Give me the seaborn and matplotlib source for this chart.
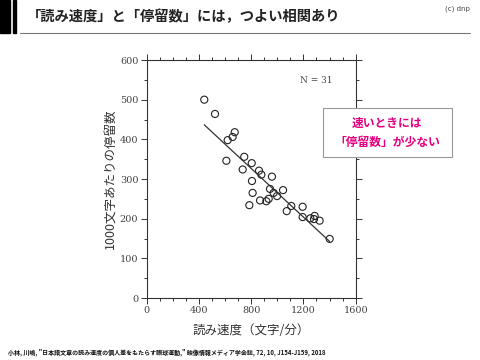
import numpy as np
import pandas as pd
import matplotlib
matplotlib.use("Agg")
import matplotlib.pyplot as plt
import seaborn as sns
from matplotlib.ticker import MultipleLocator
from matplotlib.patches import Rectangle

# data
speed = [441, 523, 620, 658, 674, 610, 747, 735, 804, 860, 878, 959, 806, 811, 944, 972,
         998, 1044, 786, 868, 916, 934, 1072, 1107, 1194, 1194, 1253, 1286, 1281, 1324, 1401]
fixations = [500, 464, 398, 406, 418, 346, 356, 324, 340, 321, 311, 306, 295, 265, 275, 265,
             257, 272, 234, 246, 244, 250, 219, 232, 230, 204, 201, 207, 199, 195, 149]

title = "「読み速度」と「停留数」には，つよい相関あり"
xlabel = "読み速度（文字/分）"
ylabel = "1000文字あたりの停留数"
note = "速いときには\n「停留数」が少ない"
cite = "小林, 川嶋, \"日本語文章の読み速度の個人差をもたらす眼球運動,\" 映像情報メディア学会誌, 72, 10, J154-J159, 2018"

df = pd.DataFrame({"speed": speed, "fix": fixations})

sns.set_theme(style="white")
plt.rcParams["font.family"] = ["Noto Sans CJK JP", "DejaVu Sans"]

fig = plt.figure(figsize=(4.8, 3.6), dpi=100)
ax = fig.add_axes([0.3056, 0.1722, 0.4354, 0.6611])

sns.scatterplot(data=df, x="speed", y="fix", ax=ax, marker="o", s=26,
                facecolor="none", edgecolor="#222222", linewidth=0.8)
sns.regplot(data=df, x="speed", y="fix", ax=ax, scatter=False, ci=None,
            line_kws=dict(color="#333333", lw=0.9))

ax.set_xlim(0, 1600)
ax.set_ylim(0, 600)
ax.xaxis.set_major_locator(MultipleLocator(400))
ax.xaxis.set_minor_locator(MultipleLocator(100))
ax.yaxis.set_major_locator(MultipleLocator(100))
ax.yaxis.set_minor_locator(MultipleLocator(50))
ax.tick_params(which="both", direction="out", top=True, right=True,
               bottom=True, left=True, color="#333333", width=0.7,
               labelsize=7, labelcolor="#444444", pad=2)
ax.tick_params(which="major", length=4)
ax.tick_params(which="minor", length=2.5)
for lab in ax.get_xticklabels() + ax.get_yticklabels():
    lab.set_family("DejaVu Serif")
for sp in ax.spines.values():
    sp.set_color("#333333")
    sp.set_linewidth(0.8)

ax.set_xlabel(xlabel, fontsize=9, color="#333333", labelpad=6)
ax.set_ylabel(ylabel, fontsize=9, color="#333333", labelpad=2)
ax.text(1420, 548, "N = 31", fontsize=6.5, family="DejaVu Serif",
        color="#444444", ha="right", va="center")

# header
fig.add_artist(Rectangle((0, 1 - 33 / 360), 10 / 480, 33 / 360,
                         transform=fig.transFigure, color="black"))
fig.add_artist(Rectangle((12.5 / 480, 1 - 33 / 360), 3 / 480, 33 / 360,
                         transform=fig.transFigure, color="black"))
fig.add_artist(plt.Line2D([20 / 480, 470 / 480], [1 - 33 / 360] * 2,
                          transform=fig.transFigure, color="#777777", lw=0.8))
fig.text(27 / 480, 1 - 17 / 360, title, fontsize=10.3, fontweight="bold",
         color="#222222", va="center", ha="left")
fig.text(470 / 480, 1 - 9 / 360, "(c) dnp", fontsize=5, color="#444444",
         family="DejaVu Sans", va="center", ha="right")

# callout box
fig.add_artist(Rectangle((323 / 480, 1 - 157 / 360), 129 / 480, 49 / 360,
                         transform=fig.transFigure, facecolor="white",
                         edgecolor="#999999", lw=0.8, zorder=5))
fig.text(387 / 480, 1 - 132.5 / 360, note, fontsize=8.5, fontweight="bold",
         color="#e4007f", ha="center", va="center", linespacing=1.6, zorder=6)

fig.text(8 / 480, 1 - 352 / 360, cite, fontsize=4.3, fontweight="bold",
         color="#111111", ha="left", va="center")

fig.savefig("out.png", dpi=100)
